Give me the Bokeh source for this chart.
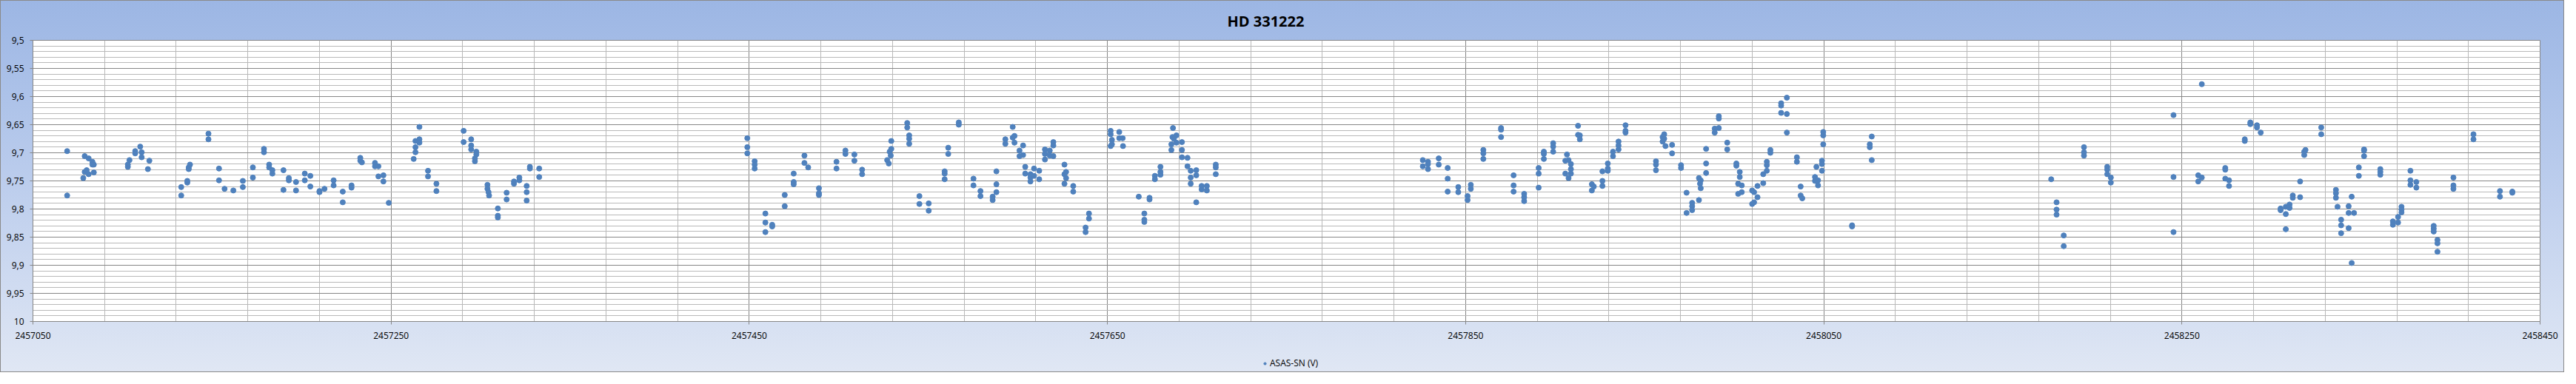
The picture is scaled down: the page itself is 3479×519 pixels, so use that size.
from bokeh.plotting import figure
from bokeh.layouts import column
from bokeh.models import (Range1d, FixedTicker, CustomJSTickFormatter,
                          Legend, LegendItem, ColumnDataSource)
from bokeh.embed import file_html
from bokeh.resources import INLINE

title_text = "HD 331222"
series_name = "ASAS-SN (V)"

x_ticks = [2457050, 2457250, 2457450, 2457650, 2457850, 2458050, 2458250, 2458450]
y_ticks = [9.5, 9.55, 9.6, 9.65, 9.7, 9.75, 9.8, 9.85, 9.9, 9.95, 10.0]

# Season 2015
jd_2015 = [2457069.1, 2457069.1, 2457078.1, 2457078.9, 2457078.9, 2457080.0, 2457081.1, 2457081.1,
           2457083.2, 2457083.2, 2457084.0, 2457084.0, 2457103.0, 2457103.0, 2457103.9, 2457107.1,
           2457107.1, 2457109.9, 2457110.7, 2457110.7, 2457115.0, 2457114.2, 2457132.8, 2457132.8,
           2457136.2, 2457136.2, 2457137.0, 2457137.0, 2457137.7, 2457148.0, 2457148.0, 2457153.9,
           2457153.9, 2457157.0, 2457161.9, 2457167.2, 2457167.2, 2457172.8, 2457172.8, 2457179.0,
           2457179.0, 2457181.9, 2457181.9, 2457183.7, 2457183.7, 2457189.9, 2457189.9, 2457192.9,
           2457192.9, 2457196.9, 2457196.9, 2457201.8, 2457201.8, 2457204.9, 2457204.9, 2457210.0,
           2457210.0, 2457212.8, 2457217.9, 2457217.9, 2457223.0, 2457223.0, 2457227.9, 2457227.9,
           2457232.8, 2457232.8, 2457233.7, 2457241.0, 2457241.0, 2457242.9, 2457242.9, 2457245.7,
           2457245.7, 2457248.7, 2457262.6, 2457263.6, 2457263.6, 2457263.6, 2457265.8, 2457265.8,
           2457265.8, 2457270.6, 2457270.6, 2457275.3, 2457275.3, 2457290.5, 2457290.5, 2457294.7,
           2457294.7, 2457294.7, 2457297.6, 2457297.6, 2457296.8, 2457296.8, 2457303.8, 2457303.8,
           2457304.4, 2457304.7, 2457309.6, 2457309.6, 2457309.6, 2457314.5, 2457314.5, 2457318.6,
           2457318.6, 2457321.6, 2457321.6, 2457325.7, 2457325.7, 2457325.7, 2457327.5, 2457327.5,
           2457332.7, 2457332.7]
mag_2015 = [9.697, 9.776, 9.745, 9.706, 9.734, 9.731, 9.710, 9.738,
            9.716, 9.721, 9.735, 9.721, 9.725, 9.721, 9.713, 9.697,
            9.701, 9.689, 9.699, 9.708, 9.714, 9.729, 9.761, 9.776,
            9.750, 9.753, 9.729, 9.726, 9.721, 9.666, 9.676, 9.728,
            9.749, 9.764, 9.767, 9.750, 9.761, 9.726, 9.744, 9.693,
            9.699, 9.721, 9.726, 9.731, 9.737, 9.731, 9.766, 9.745,
            9.749, 9.752, 9.767, 9.737, 9.749, 9.741, 9.760, 9.768,
            9.770, 9.764, 9.749, 9.758, 9.769, 9.788, 9.758, 9.762,
            9.709, 9.714, 9.717, 9.718, 9.724, 9.724, 9.742, 9.740,
            9.751, 9.789, 9.711, 9.699, 9.690, 9.679, 9.676, 9.682,
            9.654, 9.732, 9.742, 9.755, 9.768, 9.661, 9.681, 9.676,
            9.687, 9.694, 9.698, 9.703, 9.710, 9.715, 9.757, 9.764,
            9.770, 9.776, 9.799, 9.812, 9.815, 9.771, 9.783, 9.751,
            9.755, 9.744, 9.749, 9.759, 9.770, 9.785, 9.725, 9.728,
            9.728, 9.743]

# Season 2016
jd_2016 = [2457448.9, 2457448.9, 2457448.9, 2457453.0, 2457453.0, 2457453.0, 2457459.0, 2457459.0,
           2457459.0, 2457462.8, 2457462.8, 2457469.8, 2457469.8, 2457474.8, 2457474.8, 2457474.8,
           2457480.8, 2457480.8, 2457482.9, 2457488.9, 2457488.9, 2457488.9, 2457498.7, 2457498.7,
           2457503.7, 2457503.7, 2457508.7, 2457508.7, 2457513.0, 2457513.0, 2457527.0, 2457527.9,
           2457528.4, 2457529.0, 2457529.3, 2457529.3, 2457538.2, 2457538.2, 2457539.3, 2457539.3,
           2457539.3, 2457545.0, 2457545.0, 2457550.2, 2457550.2, 2457559.1, 2457559.1, 2457559.1,
           2457561.1, 2457561.1, 2457567.0, 2457567.0, 2457575.2, 2457575.2, 2457579.1, 2457579.1,
           2457585.9, 2457585.9, 2457588.0, 2457588.0, 2457588.0, 2457593.0, 2457593.0, 2457597.1,
           2457597.1, 2457598.1, 2457598.1, 2457602.9, 2457600.9, 2457600.9, 2457602.9, 2457604.1,
           2457604.1, 2457607.0, 2457607.0, 2457607.0, 2457609.0, 2457609.0, 2457611.9, 2457611.9,
           2457615.1, 2457615.1, 2457615.1, 2457617.8, 2457617.8, 2457619.8, 2457619.8, 2457619.8,
           2457626.0, 2457626.0, 2457626.0, 2457626.9, 2457626.9, 2457630.9, 2457630.9, 2457639.7,
           2457639.7, 2457637.8, 2457637.8, 2457651.8, 2457651.8, 2457652.5, 2457652.5, 2457651.8,
           2457656.6, 2457656.6, 2457658.5, 2457658.7, 2457667.5, 2457670.6, 2457670.6, 2457670.6,
           2457673.5, 2457673.5, 2457676.5, 2457676.5, 2457679.6, 2457679.6, 2457679.6, 2457686.6,
           2457686.3, 2457685.7, 2457685.7, 2457688.5, 2457688.5, 2457687.1, 2457691.6, 2457691.6,
           2457691.6, 2457694.7, 2457694.7, 2457696.5, 2457696.5, 2457696.5, 2457699.6, 2457699.6,
           2457699.6, 2457702.6, 2457702.6, 2457705.5, 2457705.5, 2457710.5, 2457710.5, 2457710.5]
mag_2016 = [9.674, 9.690, 9.701, 9.715, 9.721, 9.728, 9.808, 9.824,
            9.841, 9.828, 9.831, 9.775, 9.795, 9.737, 9.752, 9.756,
            9.705, 9.718, 9.726, 9.763, 9.772, 9.775, 9.716, 9.728,
            9.696, 9.702, 9.703, 9.714, 9.730, 9.738, 9.713, 9.719,
            9.698, 9.705, 9.693, 9.679, 9.647, 9.655, 9.669, 9.675,
            9.684, 9.777, 9.791, 9.790, 9.803, 9.733, 9.737, 9.747,
            9.691, 9.702, 9.646, 9.650, 9.746, 9.758, 9.768, 9.777,
            9.778, 9.784, 9.733, 9.756, 9.770, 9.676, 9.684, 9.654,
            9.673, 9.670, 9.682, 9.687, 9.696, 9.706, 9.704, 9.725,
            9.737, 9.738, 9.744, 9.751, 9.728, 9.741, 9.732, 9.747,
            9.694, 9.702, 9.712, 9.696, 9.705, 9.681, 9.687, 9.706,
            9.721, 9.738, 9.755, 9.734, 9.745, 9.759, 9.769, 9.808,
            9.817, 9.833, 9.841, 9.661, 9.667, 9.677, 9.685, 9.688,
            9.663, 9.674, 9.674, 9.688, 9.778, 9.808, 9.819, 9.823,
            9.780, 9.783, 9.741, 9.747, 9.725, 9.734, 9.739, 9.656,
            9.672, 9.685, 9.695, 9.669, 9.682, 9.675, 9.681, 9.695,
            9.708, 9.709, 9.724, 9.732, 9.744, 9.755, 9.731, 9.740,
            9.788, 9.759, 9.765, 9.759, 9.767, 9.721, 9.726, 9.738]

# Season 2017
jd_2017 = [2457826.1, 2457826.1, 2457829.0, 2457829.0, 2457829.0, 2457835.0, 2457835.0, 2457840.0,
           2457840.0, 2457840.0, 2457845.9, 2457845.9, 2457851.1, 2457851.1, 2457852.9, 2457852.9,
           2457859.9, 2457859.9, 2457859.9, 2457869.8, 2457869.8, 2457869.8, 2457876.8, 2457876.8,
           2457876.8, 2457882.7, 2457882.7, 2457882.7, 2457890.8, 2457890.8, 2457890.8, 2457893.7,
           2457893.7, 2457893.7, 2457898.9, 2457898.9, 2457898.9, 2457906.6, 2457905.7, 2457907.5,
           2457908.8, 2457908.8, 2457908.8, 2457905.7, 2457907.5, 2457912.8, 2457912.8, 2457913.8,
           2457913.8, 2457920.5, 2457920.5, 2457921.6, 2457926.4, 2457926.4, 2457926.4, 2457929.4,
           2457929.4, 2457929.4, 2457932.3, 2457932.3, 2457935.4, 2457935.4, 2457935.4, 2457939.3,
           2457939.3, 2457939.3, 2457956.3, 2457956.3, 2457956.3, 2457960.0, 2457960.9, 2457960.9,
           2457960.0, 2457961.6, 2457965.3, 2457965.3, 2457970.3, 2457970.3, 2457973.4, 2457973.4,
           2457976.5, 2457976.5, 2457976.5, 2457980.3, 2457980.3, 2457981.3, 2457980.9, 2457981.3,
           2457984.3, 2457984.3, 2457984.3, 2457989.1, 2457989.1, 2457991.4, 2457991.4, 2457991.4,
           2457996.1, 2457996.1, 2458001.2, 2458001.2, 2458003.1, 2458003.1, 2458002.2, 2458002.2,
           2458004.2, 2458004.2, 2458010.0, 2458011.1, 2458010.0, 2458011.1, 2458013.0, 2458013.0,
           2458016.2, 2458016.2, 2458018.2, 2458018.2, 2458018.2, 2458020.2, 2458020.2, 2458026.2,
           2458026.2, 2458026.2, 2458029.4, 2458029.4, 2458029.4, 2458035.0, 2458035.0, 2458037.1,
           2458037.1, 2458038.0, 2458045.9, 2458045.1, 2458045.1, 2458046.8, 2458046.8, 2458049.0,
           2458049.0, 2458049.0, 2458049.7, 2458049.7, 2458049.7, 2458076.8, 2458075.7, 2458075.7,
           2458076.8, 2458065.8, 2458065.8]
mag_2017 = [9.713, 9.724, 9.716, 9.720, 9.729, 9.710, 9.721, 9.727,
            9.746, 9.769, 9.761, 9.770, 9.777, 9.784, 9.757, 9.764,
            9.695, 9.701, 9.711, 9.656, 9.659, 9.672, 9.740, 9.758,
            9.769, 9.773, 9.779, 9.786, 9.727, 9.737, 9.762, 9.698,
            9.702, 9.711, 9.683, 9.689, 9.698, 9.703, 9.714, 9.713,
            9.720, 9.729, 9.737, 9.737, 9.745, 9.652, 9.668, 9.669,
            9.676, 9.756, 9.767, 9.760, 9.733, 9.750, 9.759, 9.719,
            9.728, 9.732, 9.698, 9.706, 9.680, 9.687, 9.694, 9.651,
            9.661, 9.664, 9.715, 9.721, 9.731, 9.672, 9.667, 9.675,
            9.680, 9.688, 9.686, 9.701, 9.722, 9.727, 9.771, 9.807,
            9.789, 9.795, 9.802, 9.745, 9.784, 9.749, 9.755, 9.763,
            9.693, 9.719, 9.736, 9.657, 9.664, 9.635, 9.639, 9.656,
            9.682, 9.694, 9.719, 9.723, 9.734, 9.743, 9.755, 9.773,
            9.758, 9.770, 9.767, 9.770, 9.791, 9.788, 9.759, 9.779,
            9.754, 9.738, 9.732, 9.722, 9.716, 9.695, 9.700, 9.612,
            9.616, 9.629, 9.602, 9.631, 9.664, 9.708, 9.716, 9.760,
            9.776, 9.781, 9.725, 9.743, 9.750, 9.749, 9.758, 9.714,
            9.720, 9.732, 9.663, 9.669, 9.685, 9.671, 9.685, 9.690,
            9.713, 9.829, 9.831]

# Season 2018
jd_2018 = [2458177.0, 2458180.0, 2458180.0, 2458180.0, 2458184.0, 2458184.0, 2458195.3, 2458195.3,
           2458195.3, 2458208.3, 2458208.3, 2458208.3, 2458210.3, 2458210.3, 2458245.3, 2458245.3,
           2458245.3, 2458261.1, 2458259.1, 2458259.1, 2458261.1, 2458274.2, 2458274.2, 2458274.2,
           2458276.3, 2458276.3, 2458285.1, 2458285.1, 2458288.2, 2458288.2, 2458291.9, 2458291.9,
           2458294.0, 2458305.1, 2458305.1, 2458308.0, 2458308.0, 2458308.0, 2458310.1, 2458310.1,
           2458311.9, 2458311.9, 2458316.0, 2458316.0, 2458318.3, 2458318.3, 2458319.0, 2458327.8,
           2458327.8, 2458336.0, 2458336.0, 2458336.0, 2458336.9, 2458338.9, 2458338.9, 2458338.9,
           2458343.1, 2458343.1, 2458343.1, 2458344.8, 2458344.8, 2458346.1, 2458348.8, 2458348.8,
           2458351.7, 2458351.7, 2458351.7, 2458360.8, 2458360.8, 2458360.8, 2458367.8, 2458367.8,
           2458370.7, 2458370.7, 2458372.6, 2458372.6, 2458372.6, 2458377.6, 2458377.6, 2458377.6,
           2458380.9, 2458380.9, 2458390.6, 2458390.6, 2458390.6, 2458392.7, 2458392.7, 2458392.7,
           2458401.6, 2458401.6, 2458401.6, 2458412.8, 2458412.8, 2458427.6, 2458427.6, 2458434.5,
           2458434.5]
mag_2018 = [9.747, 9.788, 9.801, 9.810, 9.847, 9.866, 9.690, 9.699,
            9.705, 9.725, 9.730, 9.738, 9.744, 9.753, 9.633, 9.743,
            9.841, 9.578, 9.740, 9.751, 9.744, 9.727, 9.730, 9.746,
            9.749, 9.759, 9.676, 9.679, 9.646, 9.649, 9.651, 9.655,
            9.664, 9.799, 9.802, 9.796, 9.809, 9.836, 9.792, 9.798,
            9.776, 9.780, 9.751, 9.779, 9.698, 9.704, 9.695, 9.655,
            9.667, 9.766, 9.772, 9.780, 9.796, 9.819, 9.829, 9.843,
            9.795, 9.807, 9.834, 9.778, 9.896, 9.807, 9.726, 9.741,
            9.694, 9.706, 9.696, 9.729, 9.734, 9.739, 9.822, 9.828,
            9.814, 9.824, 9.796, 9.801, 9.806, 9.732, 9.749, 9.757,
            9.752, 9.762, 9.830, 9.835, 9.840, 9.855, 9.861, 9.876,
            9.744, 9.758, 9.764, 9.667, 9.676, 9.768, 9.778, 9.769,
            9.771]

jd = jd_2015 + jd_2016 + jd_2017 + jd_2018
mag = mag_2015 + mag_2016 + mag_2017 + mag_2018
src = ColumnDataSource(dict(jd=jd, mag=mag))

x_minor = [x_ticks[0] + 40 * i for i in range(36)]
y_minor = [round(9.5 + 0.01 * i, 2) for i in range(51)]

FONT = "Open Sans"
MAJOR = "#878787"
MINOR = "#B9B9B9"
BLUE = "#4F81BD"

# ---- main chart ----
p = figure(width=3463, height=474, output_backend="svg", toolbar_location=None,
           title=title_text,
           x_range=Range1d(x_ticks[0], x_ticks[-1]), y_range=Range1d(10.0, 9.5),
           min_border_left=44, min_border_right=33, min_border_top=49, min_border_bottom=40)
p.border_fill_color = None
p.background_fill_color = "white"
p.outline_line_color = MAJOR

p.title.align = "left"
p.title.offset = 1613
p.title.text_font = FONT
p.title.text_font_style = "bold"
p.title.text_font_size = "20px"
p.title.text_color = "#000000"
p.title.standoff = 25

xt = FixedTicker(ticks=x_ticks, minor_ticks=x_minor)
yt = FixedTicker(ticks=y_ticks, minor_ticks=y_minor)
p.xaxis.ticker = xt
p.yaxis.ticker = yt
p.xgrid.ticker = xt
p.ygrid.ticker = yt
p.xaxis.formatter = CustomJSTickFormatter(code="return Math.round(tick).toString();")
p.yaxis.formatter = CustomJSTickFormatter(
    code="var s = (Math.round(tick*100)/100).toString(); return s.replace('.', ',');")

for g in (p.xgrid, p.ygrid):
    g.grid_line_color = MAJOR
    g.grid_line_width = 1
    g.minor_grid_line_color = MINOR
    g.minor_grid_line_width = 1

for ax in (p.xaxis, p.yaxis):
    ax.axis_line_color = MAJOR
    ax.major_tick_line_color = MAJOR
    ax.major_tick_out = 4
    ax.major_tick_in = 0
    ax.minor_tick_line_color = None
    ax.major_label_text_font = FONT
    ax.major_label_text_font_size = "12px"
    ax.major_label_text_color = "#000000"
p.xaxis.major_label_standoff = 10
p.yaxis.major_label_standoff = 8

p.scatter(x="jd", y="mag", source=src, size=7, marker="circle",
          fill_color=BLUE, line_color=BLUE)

# ---- legend strip below the chart (same series; its points fall outside this strip's ranges) ----
lf = figure(width=3463, height=29, output_backend="svg", toolbar_location=None,
            title=None, x_axis_type=None, y_axis_type=None,
            x_range=Range1d(0, 1), y_range=Range1d(0, 1),
            min_border_left=0, min_border_right=0, min_border_top=0, min_border_bottom=0)
lf.border_fill_color = None
lf.background_fill_color = None
lf.outline_line_color = None
legend_marker = lf.scatter(x="jd", y="mag", source=src, size=7, marker="circle",
                           fill_color=BLUE, line_color=BLUE)
legend = Legend(items=[LegendItem(label=series_name, renderers=[legend_marker])],
                location=(1660, 4), orientation="horizontal",
                border_line_color=None, background_fill_alpha=0,
                padding=0, margin=0, glyph_width=8, glyph_height=8,
                label_standoff=3, label_text_font=FONT, label_text_font_size="12px",
                label_text_color="#000000")
lf.add_layout(legend, "center")

layout = column(p, lf, spacing=0)
layout.styles = {"background": "linear-gradient(180deg, #9CB6E4 0%, #B9CBEC 45%, #E0E7F4 100%)",
                 "outline": "1px solid #8a8a8a", "outline-offset": "-1px"}

open("out.html", "w").write(file_html(layout, INLINE))
